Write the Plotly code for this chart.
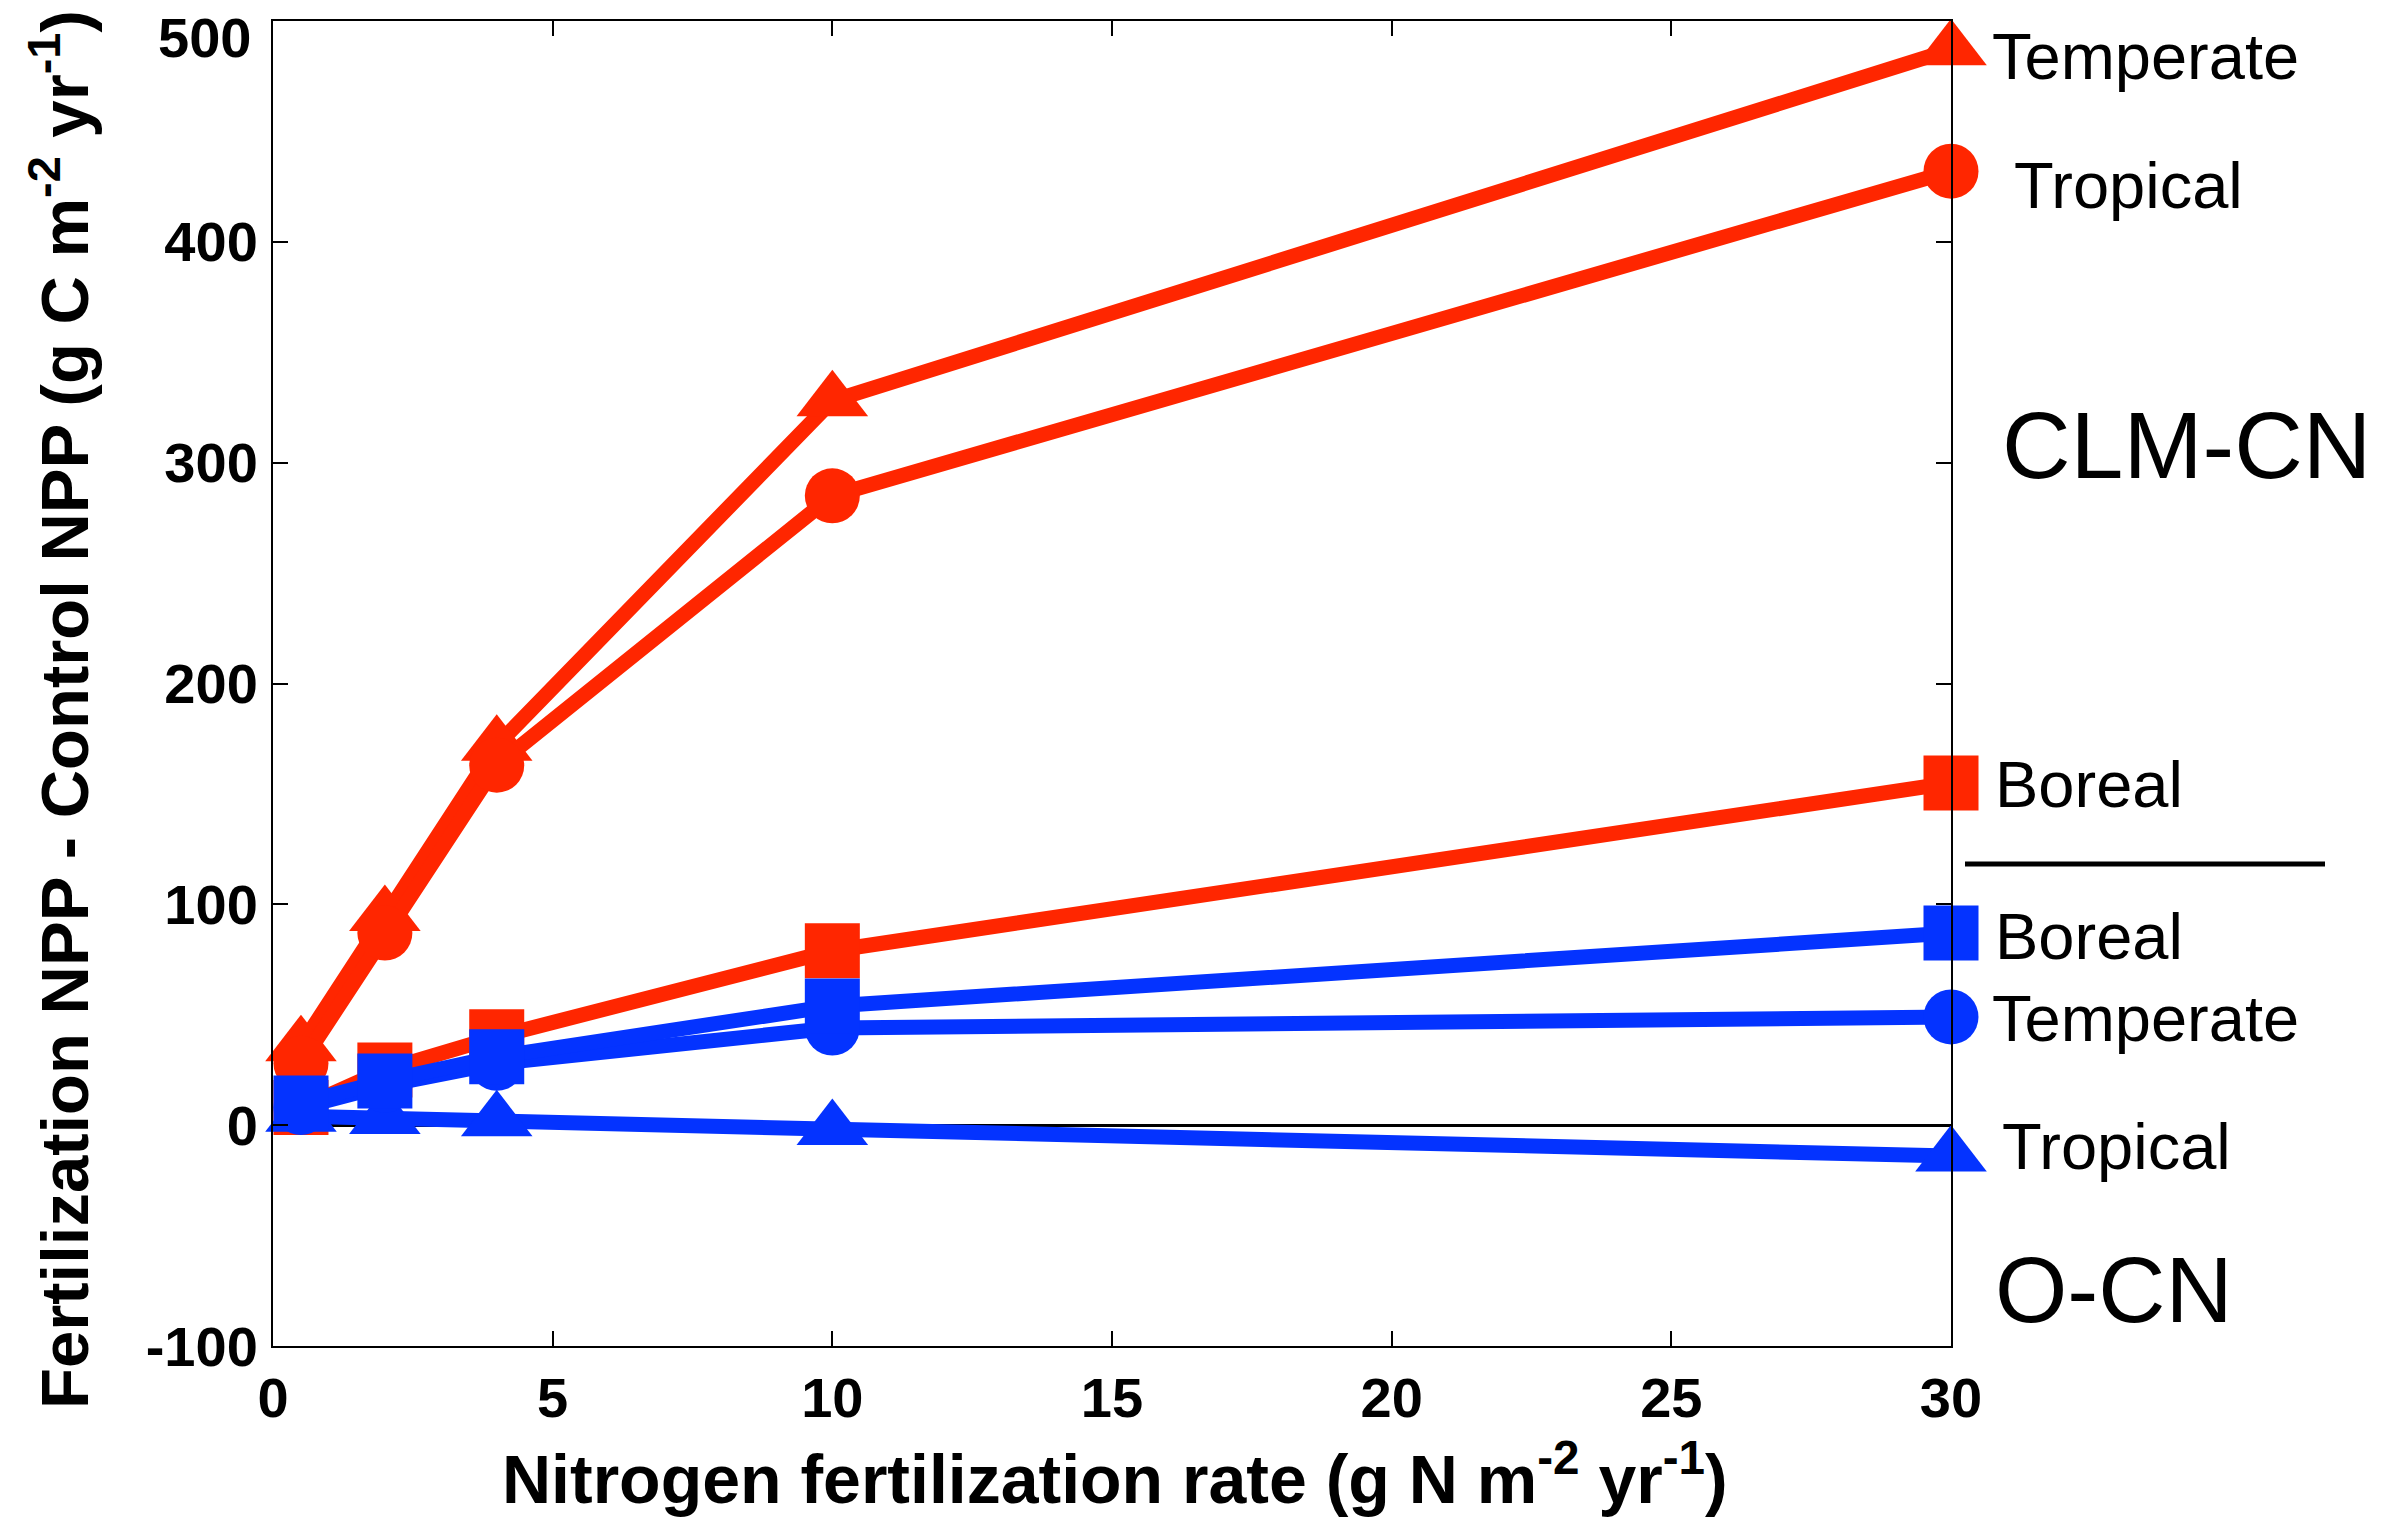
import plotly.graph_objects as go

# ---------------- data ----------------
n_rate = [0.5, 2, 4, 10, 30]

clm_temperate = [36, 95, 172, 328, 487]
clm_tropical = [28, 87, 163, 285, 432]
clm_boreal = [8, 25, 40, 79, 155]

ocn_tropical = [4, 3, 2, -2, -14]
ocn_temperate = [8, 18, 28, 44, 49]
ocn_boreal = [10, 20, 31, 54, 87]

x_ticks = [0, 5, 10, 15, 20, 25, 30]
y_ticks = [-100, 0, 100, 200, 300, 400, 500]

# ---------------- style ----------------
RED = "#FF2600"
BLUE = "#0433FF"
BOLD = "Liberation Sans, Arial, Helvetica, sans-serif"
SANS = "Liberation Sans, Arial, Helvetica, sans-serif"

W, H = 2403, 1521
L, R, T, B = 273, 1951, 21, 1346  # plot area in pixels


def px(xp):
    return (xp - L) / (R - L)


def py(yp):
    return (B - yp) / (B - T)


series = [
    (clm_temperate, RED, "triangle-up", 62),
    (clm_tropical, RED, "circle", 55),
    (clm_boreal, RED, "square", 55),
    (ocn_tropical, BLUE, "triangle-up", 62),
    (ocn_temperate, BLUE, "circle", 55),
    (ocn_boreal, BLUE, "square", 55),
]

fig = go.Figure()
for vals, col, sym, sz in series:
    fig.add_trace(go.Scatter(
        x=n_rate, y=vals, mode="lines+markers",
        line=dict(color=col, width=15),
        marker=dict(color=col, symbol=sym, size=sz, line=dict(width=0)),
        cliponaxis=False, showlegend=False, hoverinfo="skip",
    ))

TICKFONT = dict(family=BOLD, size=56, color="black", weight="bold")
axis_common = dict(
    showline=True, mirror="ticks", linecolor="black", linewidth=2,
    ticks="inside", ticklen=15, tickwidth=2, tickcolor="black",
    showgrid=False, ticklabeloverflow="allow", automargin=False,
    tickfont=TICKFONT,
)

# the top y label sits a little below its tick in the reference,
# so it is drawn as an annotation instead of a tick label
y_ticktext = [str(v) if v != y_ticks[-1] else "" for v in y_ticks]

fig.update_xaxes(range=[0, 30], tickvals=x_ticks, zeroline=False,
                 ticklabelstandoff=2, **axis_common)
fig.update_yaxes(range=[-100, 500], tickvals=y_ticks, ticktext=y_ticktext,
                 zeroline=True, zerolinecolor="black", zerolinewidth=3,
                 ticklabelstandoff=2, **axis_common)

annotations = []
annotations.append(dict(
    text=str(y_ticks[-1]), xref="paper", yref="paper",
    x=px(253), y=py(38), xanchor="right", yanchor="middle",
    showarrow=False, font=TICKFONT,
))
# axis titles
annotations.append(dict(
    text="Nitrogen fertilization rate (g N m<sup>-2</sup> yr<sup>-1</sup>)",
    xref="paper", yref="paper", x=px(1115), y=py(1474),
    xanchor="center", yanchor="middle", showarrow=False,
    font=dict(family=BOLD, size=68, color="black", weight="bold"),
))
annotations.append(dict(
    text="Fertilization NPP - Control NPP (g C m<sup>-2</sup> yr<sup>-1</sup>)",
    xref="paper", yref="paper", x=px(60), y=py(710), textangle=-90,
    xanchor="center", yanchor="middle", showarrow=False,
    font=dict(family=BOLD, size=67, color="black", weight="bold"),
))

# series labels
labels = [
    ("Temperate", 1990, 57, 65),
    ("Tropical", 2012, 185, 65),
    ("CLM-CN", 2000, 445, 95),
    ("Boreal", 1993, 784, 65),
    ("Boreal", 1993, 937, 65),
    ("Temperate", 1990, 1018, 65),
    ("Tropical", 2000, 1146, 65),
    ("O-CN", 1993, 1290, 93),
]
for txt, xp, yp, fs in labels:
    annotations.append(dict(
        text=txt, xref="paper", yref="paper", x=px(xp), y=py(yp),
        xanchor="left", yanchor="middle", showarrow=False,
        font=dict(family=SANS, size=fs, color="black"),
    ))

fig.update_layout(
    width=W, height=H,
    margin=dict(l=L, r=W - R, t=T, b=H - B, pad=0, autoexpand=False),
    paper_bgcolor="white", plot_bgcolor="white",
    annotations=annotations,
    shapes=[dict(type="line", xref="paper", yref="paper",
                 x0=px(1965), x1=px(2325), y0=py(864), y1=py(864),
                 line=dict(color="black", width=5))],
)

fig.write_html("out.html", config={"displayModeBar": False},
               post_script="document.body.style.margin='0';document.body.style.overflow='hidden';")
